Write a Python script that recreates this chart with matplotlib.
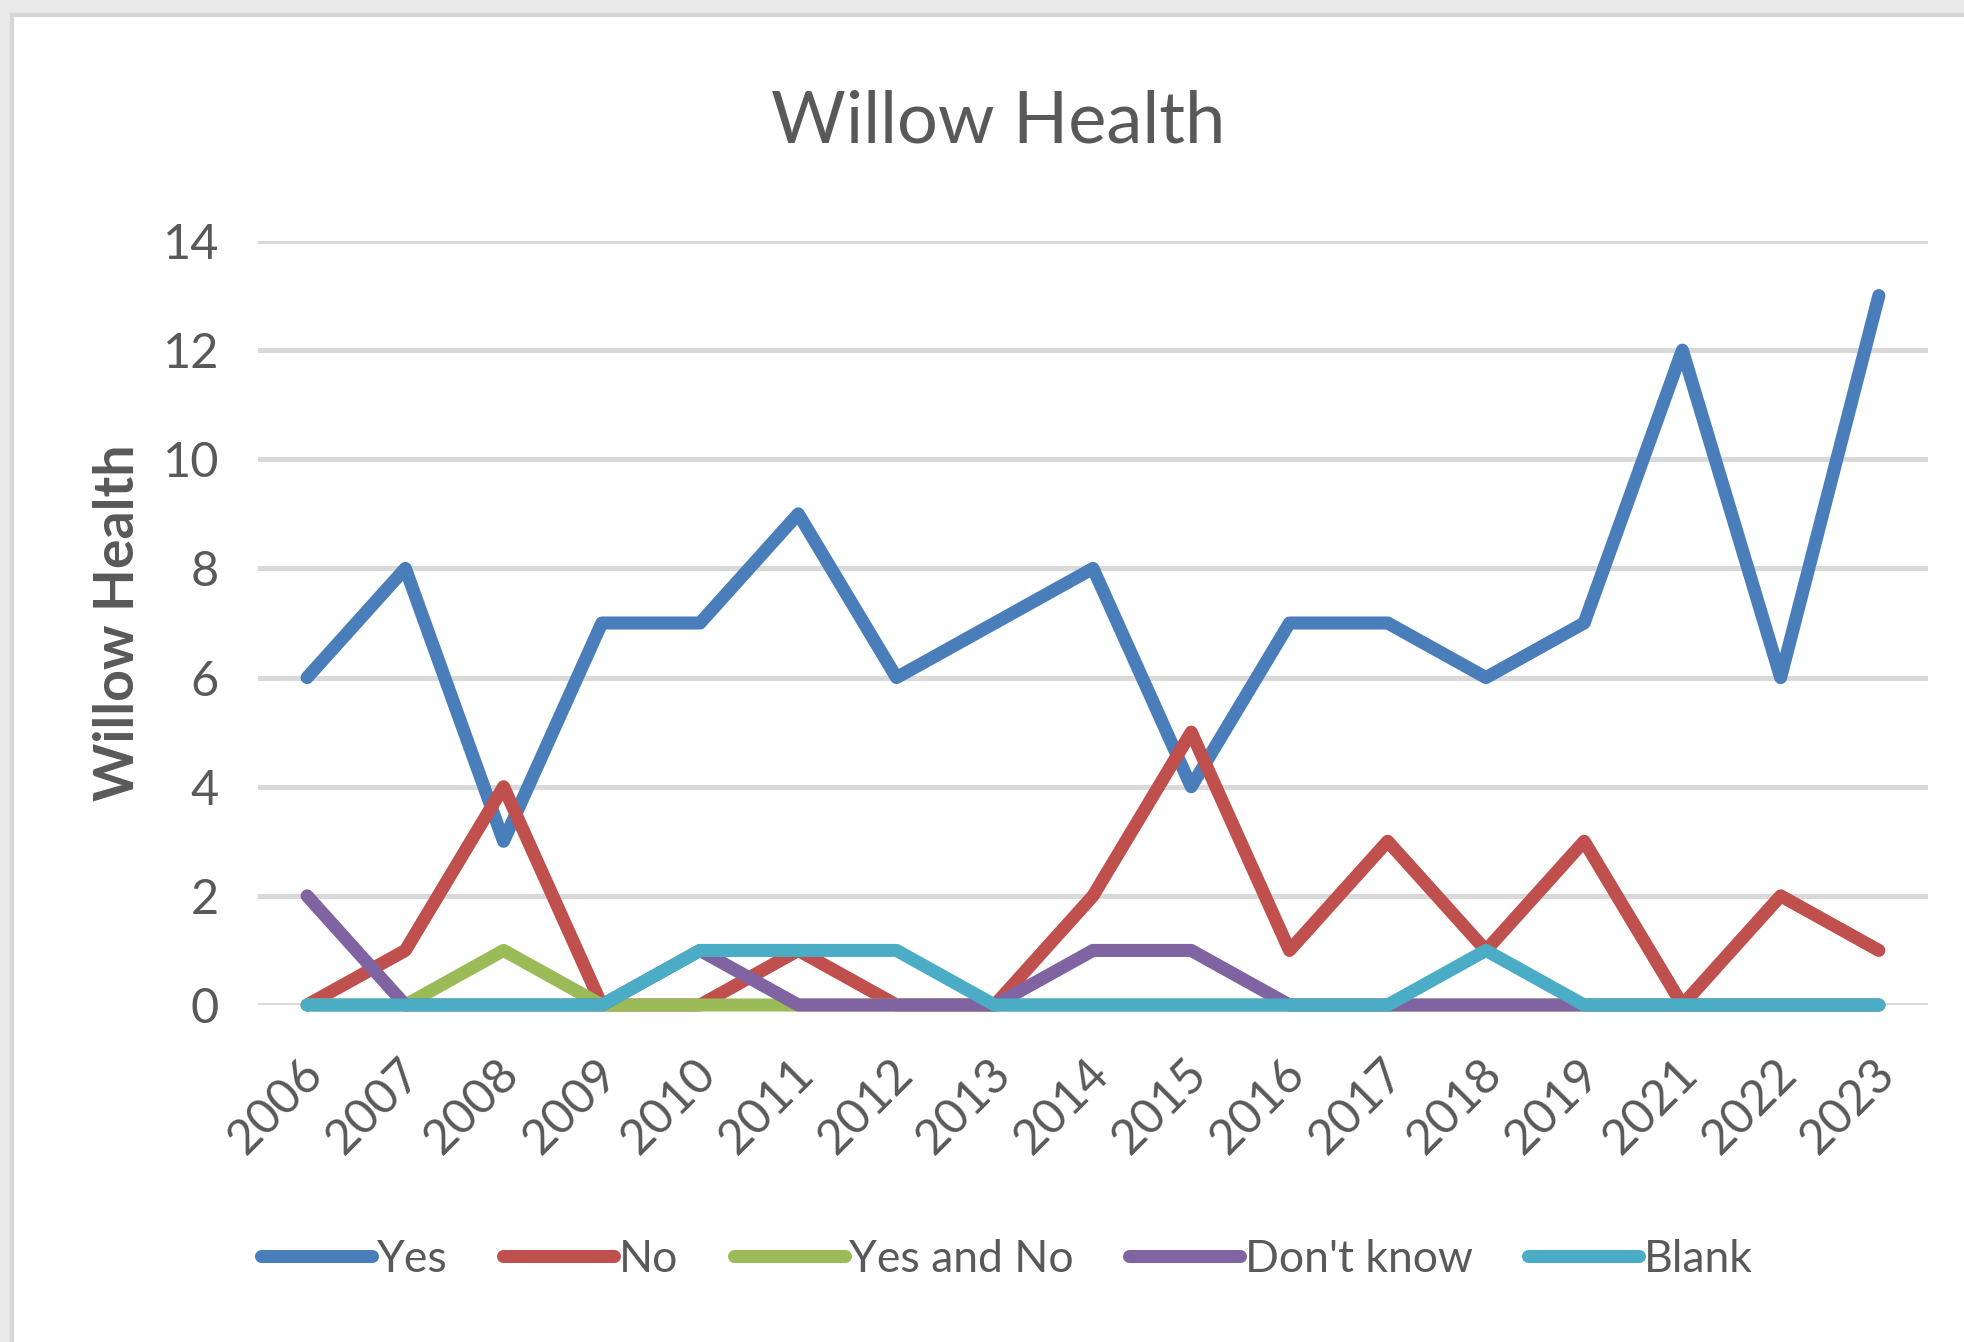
import matplotlib.pyplot as plt
import matplotlib.transforms as mtransforms
from matplotlib.patches import Rectangle

plt.rcParams['font.family'] = ['Lato', 'DejaVu Sans']

years = ['2006', '2007', '2008', '2009', '2010', '2011', '2012', '2013', '2014',
         '2015', '2016', '2017', '2018', '2019', '2021', '2022', '2023']
yes = [6, 8, 3, 7, 7, 9, 6, 7, 8, 4, 7, 7, 6, 7, 12, 6, 13]
no = [0, 1, 4, 0, 0, 1, 0, 0, 2, 5, 1, 3, 1, 3, 0, 2, 1]
yes_and_no = [0, 0, 1, 0, 0, 0, 0, 0, 0, 0, 0, 0, 0, 0, 0, 0, 0]
dont_know = [2, 0, 0, 0, 1, 0, 0, 0, 1, 1, 0, 0, 0, 0, 0, 0, 0]
blank = [0, 0, 0, 0, 1, 1, 1, 0, 0, 0, 0, 0, 1, 0, 0, 0, 0]

series = [("Yes", yes, "#4a7ebb"),
          ("No", no, "#c0504d"),
          ("Yes and No", yes_and_no, "#9bbb59"),
          ("Don't know", dont_know, "#8064a2"),
          ("Blank", blank, "#4bacc6")]

fig = plt.figure(figsize=(9.82, 6.71), dpi=200, facecolor='#e9e9e9')
# white chart panel behind everything
panel = Rectangle((12 / 1964, -0.01), 1.01, 1.01 - 15 / 1342, transform=fig.transFigure,
                  facecolor='white', edgecolor='#d6d6d6', linewidth=1.5, zorder=-10)
fig.add_artist(panel)

ax = fig.add_axes([258 / 1964, 1 - 1005 / 1342, 1670 / 1964, 764 / 1342])
ax.set_facecolor('none')

x = list(range(len(years)))
for name, vals, col in series:
    ax.plot(x, vals, color=col, lw=4.7, label=name, solid_capstyle='round',
            solid_joinstyle='round', clip_on=False, zorder=3)

ax.set_xlim(-0.5, len(years) - 0.5)
ax.set_ylim(0, 14)
ax.set_yticks(range(0, 15, 2))
ax.grid(axis='y', color='#d9d9d9', lw=1.8)
ax.set_axisbelow(True)
for s in ax.spines.values():
    s.set_visible(False)
ax.tick_params(length=0, labelsize=17.5, colors='#595959')
ax.tick_params(axis='y', pad=14)

ax.set_xticks(x)
ax.set_xticklabels(years, rotation=45, ha='right', rotation_mode='anchor')
offset = mtransforms.ScaledTranslation(-7 / 200, -36 / 200, fig.dpi_scale_trans)
for lbl in ax.get_xticklabels():
    lbl.set_transform(lbl.get_transform() + offset)

fig.text(998 / 1964, 1 - 122 / 1342, "Willow Health", fontsize=26, color='#595959',
         ha='center', va='center')
ax.set_ylabel("Willow Health", fontsize=20, fontweight='bold', color='#595959', labelpad=7)

fig.legend(loc='center', bbox_to_anchor=(1007 / 1964, 1 - 1259 / 1342), ncol=5,
           frameon=False, fontsize=16, labelcolor='#595959', handlelength=2.5,
           handletextpad=0.1, columnspacing=1.25)

fig.savefig('out.png', dpi=200, facecolor=fig.get_facecolor())
